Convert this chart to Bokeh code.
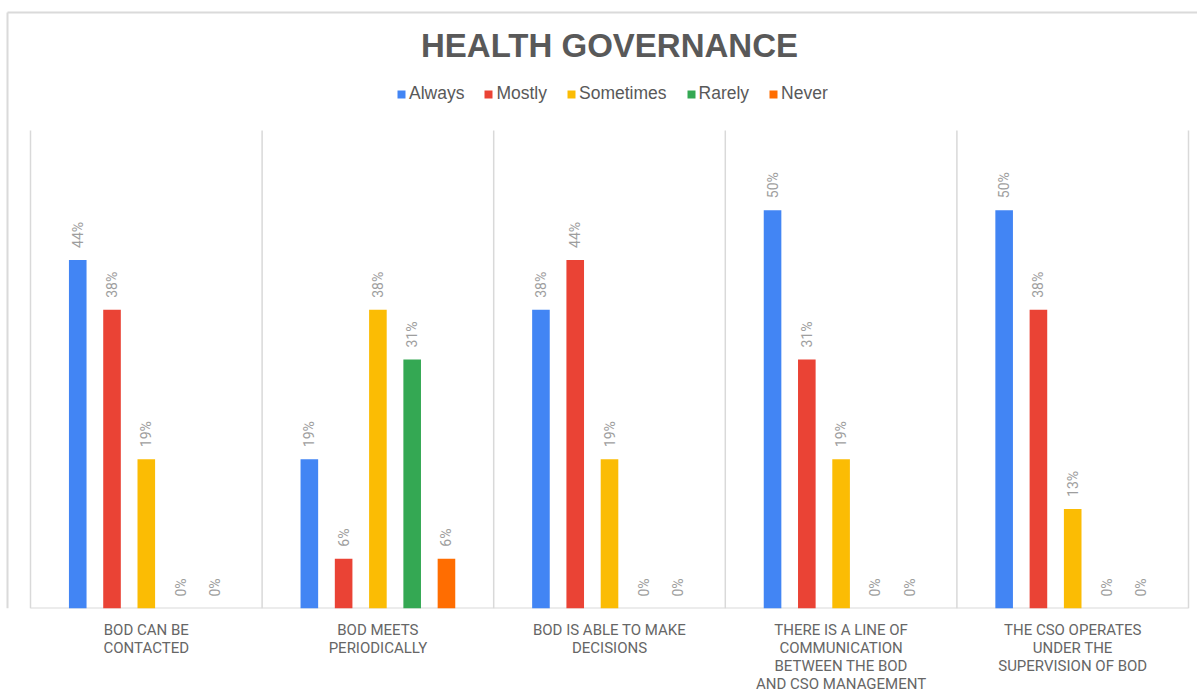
import math
from bokeh.plotting import figure
from bokeh.models import ColumnDataSource, FixedTicker, Legend, LegendItem, Range1d
from bokeh.core.properties import value
from bokeh.embed import file_html
from bokeh.resources import INLINE

title_text = "HEALTH GOVERNANCE"
categories = [
    "BOD CAN BE\nCONTACTED",
    "BOD MEETS\nPERIODICALLY",
    "BOD IS ABLE TO MAKE\nDECISIONS",
    "THERE IS A LINE OF\nCOMMUNICATION\nBETWEEN THE BOD\nAND CSO MANAGEMENT",
    "THE CSO OPERATES\nUNDER THE\nSUPERVISION OF BOD",
]
series_names = ["Always", "Mostly", "Sometimes", "Rarely", "Never"]
always = [0.4375, 0.1875, 0.375, 0.5, 0.5]
mostly = [0.375, 0.0625, 0.4375, 0.3125, 0.375]
sometimes = [0.1875, 0.375, 0.1875, 0.1875, 0.125]
rarely = [0.0, 0.3125, 0.0, 0.0, 0.0]
never = [0.0, 0.0625, 0.0, 0.0, 0.0]
colors = ["#4285F4", "#EA4335", "#FBBC04", "#34A853", "#FF6D01"]
y_max = 0.6

series = [always, mostly, sometimes, rarely, never]
n = len(categories)

W, H = 1197, 695
left_px, right_px, base_px = 30, 1188, 608
px_per_x = (right_px - left_px) / n
px_per_y = (base_px - 130) / y_max

def sx(px):
    return (px - left_px) / px_per_x

def sy(py):
    return (base_px - py) / px_per_y

p = figure(width=W, height=H,
           x_range=Range1d(sx(0), sx(W)), y_range=Range1d(sy(base_px), sy(0)),
           output_backend="svg", toolbar_location=None)
p.min_border_left = 0
p.min_border_right = 0
p.min_border_top = 0
p.min_border_bottom = H - base_px
p.outline_line_color = None
p.background_fill_color = "white"
p.border_fill_color = "white"
p.yaxis.visible = False
p.xgrid.grid_line_color = None
p.ygrid.grid_line_color = None

p.xaxis.ticker = FixedTicker(ticks=[i + 0.5 for i in range(n)])
p.xaxis.major_label_overrides = {i + 0.5: c for i, c in enumerate(categories)}
p.xaxis.major_tick_line_color = None
p.xaxis.minor_tick_line_color = None
p.xaxis.axis_line_color = None
p.xaxis.major_label_text_font = "Roboto"
p.xaxis.major_label_text_font_size = "15px"
p.xaxis.major_label_text_color = "#666666"
p.xaxis.major_label_text_line_height = 1.0
p.xaxis.major_label_standoff = 6

# outer chart border (top + left)
p.segment(x0=[sx(7), sx(7)], y0=[sy(12), sy(12)], x1=[sx(W), sx(7)], y1=[sy(12), sy(base_px)],
          line_color="#dadada", line_width=2)

# category separators and baseline
seps = list(range(n + 1))
p.segment(x0=seps, y0=[0] * len(seps), x1=seps, y1=[y_max] * len(seps),
          line_color="#d9d9d9", line_width=1.5)
p.segment(x0=[0], y0=[0], x1=[n], y1=[0], line_color="#d9d9d9", line_width=2)

offset = 0.148
bw = 0.076
items = []
for j, (name, vals, col) in enumerate(zip(series_names, series, colors)):
    xs = [i + 0.5 + (j - 2) * offset for i in range(n)]
    labels = [f"{int(v * 100 + 0.5)}%" for v in vals]
    src = ColumnDataSource(dict(x=xs, top=vals, label=labels))
    r = p.vbar(x="x", top="top", width=bw, bottom=0, source=src,
               fill_color=col, line_color=None)
    p.text(x="x", y="top", text="label", source=src, angle=math.pi / 2,
           text_align="left", text_baseline="middle", y_offset=-12,
           text_font=value("Roboto"), text_font_size="14px", text_color="#9e9e9e")
    items.append(LegendItem(label=name, renderers=[r]))

# title
p.text(x=[n / 2], y=[sy(45)], text=[title_text], text_align="center",
       text_baseline="middle", text_font=value("Liberation Sans"),
       text_font_size="33px", text_font_style="bold", text_color="#595959")

legend = Legend(items=items, orientation="horizontal",
                glyph_width=10, glyph_height=10, label_standoff=3, spacing=19,
                label_text_font="Liberation Sans", label_text_font_size="17.5px",
                label_text_color="#595959", border_line_color=None,
                background_fill_alpha=0, padding=0, margin=0)
legend.location = (396, base_px - 104)
p.add_layout(legend, "center")

open("out.html", "w").write(file_html(p, INLINE))
